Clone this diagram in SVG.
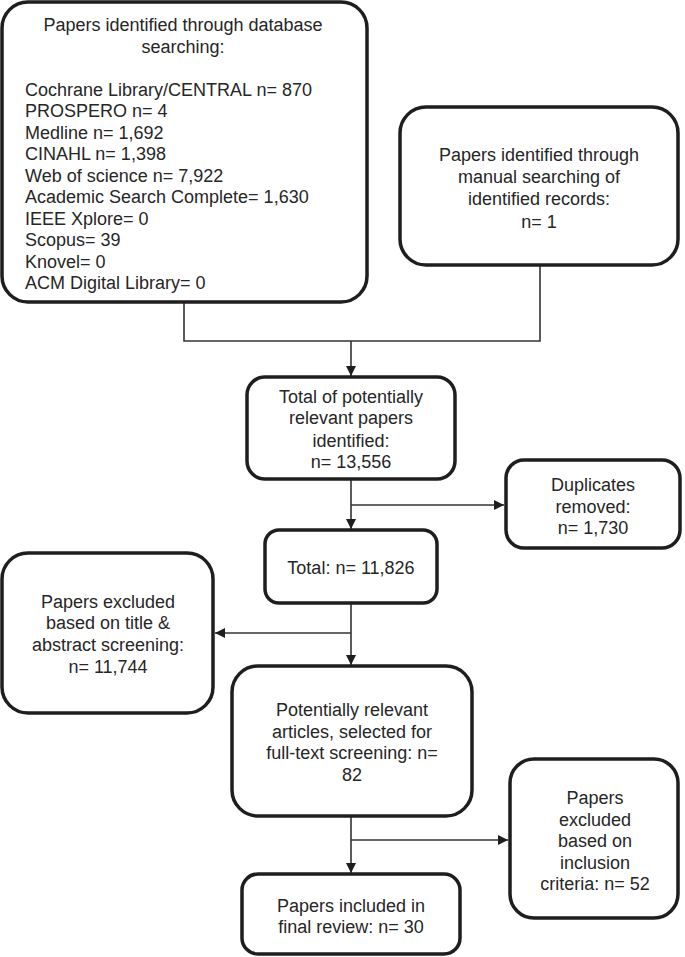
<svg xmlns="http://www.w3.org/2000/svg" width="685" height="957" viewBox="0 0 685 957">
<defs>
<style>
.box{fill:#fff;stroke:#1e1e1e;stroke-width:3.5}
.t{font-family:"Liberation Sans",Arial,sans-serif;font-size:18px;fill:#262626;text-anchor:middle}
.l{text-anchor:start}
.c{fill:none;stroke:#333;stroke-width:1.6}
</style>
<marker id="ah" viewBox="0 0 10 10" refX="10" refY="5" markerWidth="10" markerHeight="10" markerUnits="userSpaceOnUse" orient="auto">
<path d="M0,0 L10,5 L0,10 Z" fill="#1e1e1e"/>
</marker>
</defs>
<rect width="685" height="957" fill="#fff"/>
<g id="connectors">
<path class="c" d="M184,302 V341 H540 V265"/>
<path class="c" d="M351,341 V376" marker-end="url(#ah)"/>
<path class="c" d="M351,479 V529" marker-end="url(#ah)"/>
<path class="c" d="M351,505 H504" marker-end="url(#ah)"/>
<path class="c" d="M351,603 V665" marker-end="url(#ah)"/>
<path class="c" d="M351,633 H215" marker-end="url(#ah)"/>
<path class="c" d="M351,816 V873" marker-end="url(#ah)"/>
<path class="c" d="M351,840 H508" marker-end="url(#ah)"/>
</g>
<g id="db">
<rect class="box" x="2" y="2" width="365" height="300" rx="26"/>
<text class="t" x="183" y="31">Papers identified through database</text>
<text class="t" x="183" y="53">searching:</text>
<text class="t l" x="25" y="96">Cochrane Library/CENTRAL n= 870</text>
<text class="t l" x="25" y="117">PROSPERO n= 4</text>
<text class="t l" x="25" y="139">Medline n= 1,692</text>
<text class="t l" x="25" y="160">CINAHL n= 1,398</text>
<text class="t l" x="25" y="182">Web of science n= 7,922</text>
<text class="t l" x="25" y="203">Academic Search Complete= 1,630</text>
<text class="t l" x="25" y="225">IEEE Xplore= 0</text>
<text class="t l" x="25" y="246">Scopus= 39</text>
<text class="t l" x="25" y="268">Knovel= 0</text>
<text class="t l" x="25" y="289">ACM Digital Library= 0</text>
</g>
<g id="manual">
<rect class="box" x="400" y="107" width="278" height="158" rx="26"/>
<text class="t" x="539" y="161">Papers identified through</text>
<text class="t" x="539" y="183">manual searching of</text>
<text class="t" x="539" y="205">identified records:</text>
<text class="t" x="539" y="228">n= 1</text>
</g>
<g id="total1">
<rect class="box" x="247" y="377" width="208" height="102" rx="18"/>
<text class="t" x="351" y="403">Total of potentially</text>
<text class="t" x="351" y="424">relevant papers</text>
<text class="t" x="351" y="447">identified:</text>
<text class="t" x="351" y="468">n= 13,556</text>
</g>
<g id="dup">
<rect class="box" x="506" y="460" width="174" height="88" rx="18"/>
<text class="t" x="593" y="491">Duplicates</text>
<text class="t" x="593" y="513">removed:</text>
<text class="t" x="593" y="534">n= 1,730</text>
</g>
<g id="total2">
<rect class="box" x="265" y="530" width="172" height="73" rx="14"/>
<text class="t" x="351" y="574">Total: n= 11,826</text>
</g>
<g id="excl1">
<rect class="box" x="2" y="553" width="211" height="160" rx="26"/>
<text class="t" x="108" y="608">Papers excluded</text>
<text class="t" x="108" y="629">based on title &amp;</text>
<text class="t" x="108" y="651">abstract screening:</text>
<text class="t" x="108" y="673">n= 11,744</text>
</g>
<g id="fulltext">
<rect class="box" x="232" y="666" width="240" height="150" rx="26"/>
<text class="t" x="352" y="716">Potentially relevant</text>
<text class="t" x="352" y="738">articles, selected for</text>
<text class="t" x="352" y="759">full-text screening: n=</text>
<text class="t" x="352" y="781">82</text>
</g>
<g id="excl2">
<rect class="box" x="510" y="759" width="168" height="159" rx="24"/>
<text class="t" x="595" y="804">Papers</text>
<text class="t" x="595" y="826">excluded</text>
<text class="t" x="595" y="847">based on</text>
<text class="t" x="595" y="869">inclusion</text>
<text class="t" x="595" y="890">criteria: n= 52</text>
</g>
<g id="final">
<rect class="box" x="242" y="874" width="218" height="80" rx="16"/>
<text class="t" x="351" y="912">Papers included in</text>
<text class="t" x="351" y="933">final review: n= 30</text>
</g>
</svg>
